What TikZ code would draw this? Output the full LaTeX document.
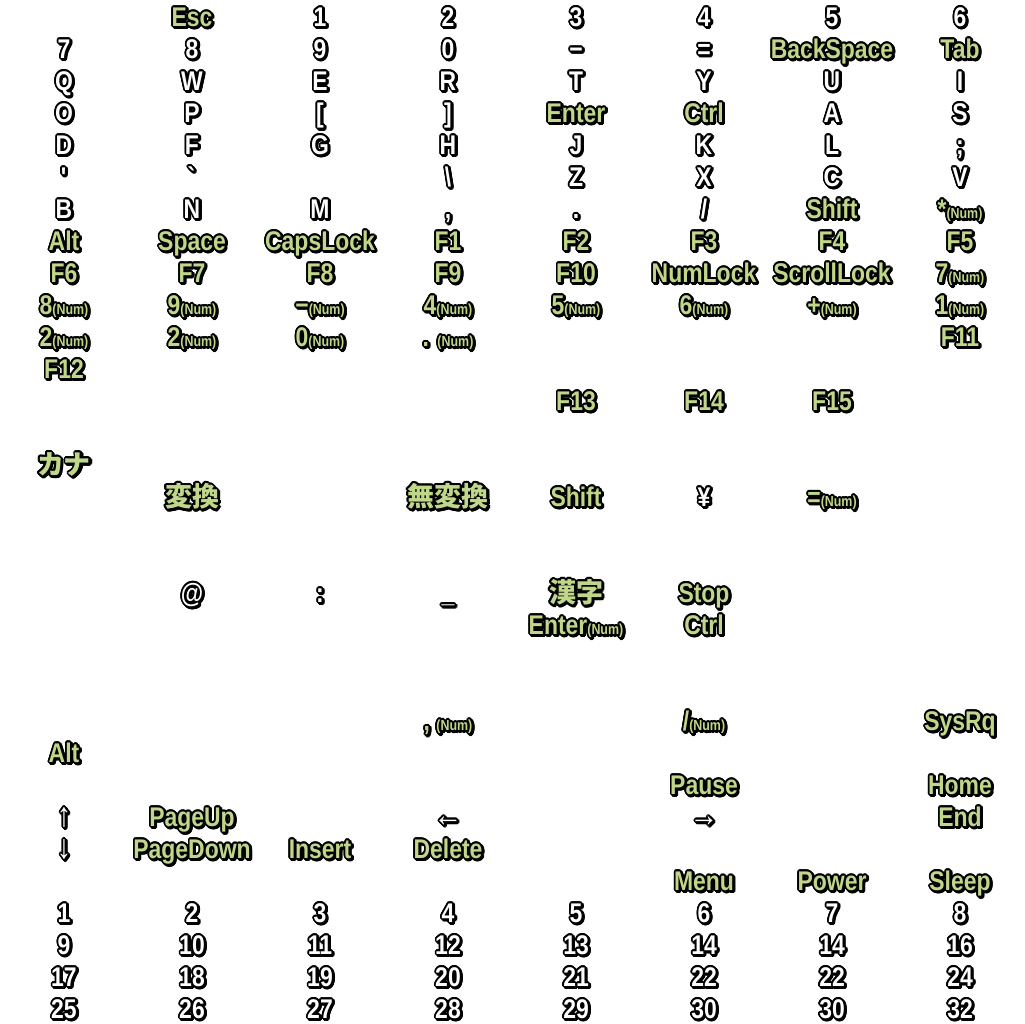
\documentclass[tikz,border=0pt]{standalone}
\usepackage{fontspec}
\setmainfont{Liberation Sans}[FakeStretch=0.85]
\newfontfamily\jp{Noto Sans CJK JP}
\usepackage{contour}
\contourlength{0.75pt}
\definecolor{keygreen}{RGB}{192,214,136}

% outlined key text with a small shadow
\newcommand\keytext[2]{\leavevmode\rlap{\hspace{0.6pt}\raisebox{-0.6pt}{\color{black}\contour{black}{#2}}}{\color{#1}\contour{black}{#2}}}
\newcommand\wkey[1]{\keytext{white}{#1}}
\newcommand\gkey[1]{\keytext{keygreen}{#1}}
\newcommand\numkey[1]{#1{\fontsize{6.5pt}{6.5pt}\selectfont(Num)}}
\newcommand\arrowkey[1]{\wkey{\fontsize{15pt}{15pt}\selectfont#1}}

\tikzset{key/.style={anchor=base, inner sep=0pt, font=\bfseries\fontsize{12pt}{12pt}\selectfont}}
\newcommand\keyrow[2]{\foreach \c/\t in {#2}{\node[key] (k#1-\c) at ({2*\c+1},{-0.5*#1-0.41}) {\t};}}

\begin{document}
\begin{tikzpicture}
    \fill[white] (0,0) rectangle (16,-16);
    \useasboundingbox (0,0) rectangle (16,-16);

    % main block
    \keyrow{0}{1/\gkey{Esc},2/\wkey{1},3/\wkey{2},4/\wkey{3},5/\wkey{4},6/\wkey{5},7/\wkey{6}}
    \keyrow{1}{0/\wkey{7},1/\wkey{8},2/\wkey{9},3/\wkey{0},4/\wkey{−},5/\wkey{=},6/\gkey{BackSpace},7/\gkey{Tab}}
    \keyrow{2}{0/\wkey{Q},1/\wkey{W},2/\wkey{E},3/\wkey{R},4/\wkey{T},5/\wkey{Y},6/\wkey{U},7/\wkey{I}}
    \keyrow{3}{0/\wkey{O},1/\wkey{P},2/\wkey{[},3/\wkey{]},4/\gkey{Enter},5/\gkey{Ctrl},6/\wkey{A},7/\wkey{S}}
    \keyrow{4}{0/\wkey{D},1/\wkey{F},2/\wkey{G},3/\wkey{H},4/\wkey{J},5/\wkey{K},6/\wkey{L},7/\wkey{;}}
    \keyrow{5}{0/\wkey{\textquotesingle},1/\wkey{\textasciigrave},3/\wkey{\textbackslash},4/\wkey{Z},5/\wkey{X},6/\wkey{C},7/\wkey{V}}
    \keyrow{6}{0/\wkey{B},1/\wkey{N},2/\wkey{M},3/\wkey{,},4/\wkey{.},5/\wkey{/},6/\gkey{Shift},7/\gkey{\numkey{*}}}
    \keyrow{7}{0/\gkey{Alt},1/\gkey{Space},2/\gkey{CapsLock},3/\gkey{F1},4/\gkey{F2},5/\gkey{F3},6/\gkey{F4},7/\gkey{F5}}
    \keyrow{8}{0/\gkey{F6},1/\gkey{F7},2/\gkey{F8},3/\gkey{F9},4/\gkey{F10},5/\gkey{NumLock},6/\gkey{ScrollLock},7/\gkey{\numkey{7}}}
    \keyrow{9}{0/\gkey{\numkey{8}},1/\gkey{\numkey{9}},2/\gkey{\numkey{−}},3/\gkey{\numkey{4}},4/\gkey{\numkey{5}},5/\gkey{\numkey{6}},6/\gkey{\numkey{+}},7/\gkey{\numkey{1}}}
    \keyrow{10}{0/\gkey{\numkey{2}},1/\gkey{\numkey{2}},2/\gkey{\numkey{0}},3/\gkey{\numkey{. }},7/\gkey{F11}}
    \keyrow{11}{0/\gkey{F12}}
    \keyrow{12}{4/\gkey{F13},5/\gkey{F14},6/\gkey{F15}}

    % japanese keys
    \keyrow{14}{0/\gkey{\jp カナ}}
    \keyrow{15}{1/\gkey{\jp 変換},3/\gkey{\jp 無変換},4/\gkey{Shift},5/\wkey{¥},6/\gkey{\numkey{=}}}
    \keyrow{18}{1/\wkey{@},2/\wkey{:},3/\wkey{\_},4/\gkey{\jp 漢字},5/\gkey{Stop}}
    \keyrow{19}{4/\gkey{\numkey{Enter}},5/\gkey{Ctrl}}
    \keyrow{22}{3/\gkey{\numkey{, }},5/\gkey{\numkey{/}},7/\gkey{SysRq}}
    \keyrow{23}{0/\gkey{Alt}}
    \keyrow{24}{5/\gkey{Pause},7/\gkey{Home}}
    \keyrow{25}{0/\arrowkey{↑},1/\gkey{PageUp},3/\arrowkey{←},5/\arrowkey{→},7/\gkey{End}}
    \keyrow{26}{0/\arrowkey{↓},1/\gkey{PageDown},2/\gkey{Insert},3/\gkey{Delete}}
    \keyrow{27}{5/\gkey{Menu},6/\gkey{Power},7/\gkey{Sleep}}

    % numbers
    \keyrow{28}{0/\wkey{1},1/\wkey{2},2/\wkey{3},3/\wkey{4},4/\wkey{5},5/\wkey{6},6/\wkey{7},7/\wkey{8}}
    \keyrow{29}{0/\wkey{9},1/\wkey{10},2/\wkey{11},3/\wkey{12},4/\wkey{13},5/\wkey{14},6/\wkey{14},7/\wkey{16}}
    \keyrow{30}{0/\wkey{17},1/\wkey{18},2/\wkey{19},3/\wkey{20},4/\wkey{21},5/\wkey{22},6/\wkey{22},7/\wkey{24}}
    \keyrow{31}{0/\wkey{25},1/\wkey{26},2/\wkey{27},3/\wkey{28},4/\wkey{29},5/\wkey{30},6/\wkey{30},7/\wkey{32}}
\end{tikzpicture}
\end{document}
